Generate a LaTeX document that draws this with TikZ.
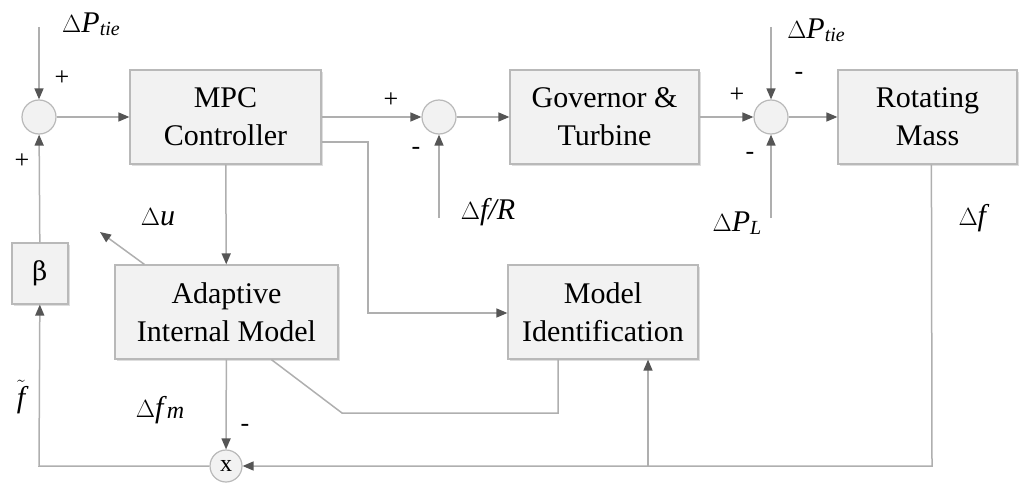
\documentclass[tikz,border=0pt]{standalone}
\usepackage{fontspec}
\newfontfamily\tms{Liberation Serif}
\newfontfamily\djs{DejaVu Serif}
\usetikzlibrary{arrows.meta,calc}
\definecolor{linec}{RGB}{175,175,175}
\definecolor{tipc}{RGB}{85,85,85}
\definecolor{boxc}{RGB}{185,185,185}
\definecolor{shdc}{RGB}{222,222,222}
\definecolor{boxf}{RGB}{242,242,242}
\newcommand{\dlt}{\ensuremath{\Delta}}
\begin{document}
\begin{tikzpicture}[x=1pt,y=-1pt,
  blk/.style={draw=boxc, line width=1.2pt, fill=boxf, align=center, inner sep=0pt,
    font=\tms\fontsize{30}{38}\selectfont},
  shd/.style={fill=shdc, draw=none},
  sumc/.style={circle, draw=boxc, line width=1.2pt, fill=boxf, minimum size=34pt, inner sep=0pt},
  conn/.style={draw=linec, line width=1.5pt},
  arr/.style={conn, -{Triangle[length=11pt,width=9pt,color=tipc]}},
  lbl/.style={font=\tms\fontsize{30}{34}\selectfont, inner sep=0pt},
  sgn/.style={font=\tms\fontsize{26}{28}\selectfont, inner sep=0pt}
]
\useasboundingbox (0,0) rectangle (1019,484);

% shadows
\fill[shd] (132,72) rectangle (323,166);
\fill[shd] (512,72) rectangle (701,166);
\fill[shd] (840,72) rectangle (1019,166);
\fill[shd] (117,267) rectangle (340,361);
\fill[shd] (510,267) rectangle (700,361);
\fill[shd] (14,245) rectangle (70,306);

% blocks
\node[blk, minimum width=191pt, minimum height=94pt] (MPC) at (225.5,117) {MPC\\Controller};
\node[blk, minimum width=189pt, minimum height=94pt] (GOV) at (604.5,117) {Governor \&\\Turbine};
\node[blk, minimum width=179pt, minimum height=94pt] (RM) at (927.5,117) {Rotating\\Mass};
\node[blk, minimum width=223pt, minimum height=94pt] (AIM) at (226.5,312) {Adaptive\\Internal Model};
\node[blk, minimum width=190pt, minimum height=94pt] (MI) at (603,312) {Model\\Identification};
\node[blk, minimum width=56pt, minimum height=61pt] (B) at (40,273.5) {{\djs\fontsize{26}{30}\selectfont β}};

% summing junctions
\node[sumc] (S1) at (39,117) {};
\node[sumc] (S2) at (439,117) {};
\node[sumc] (S3) at (771,117) {};
\node[sumc, minimum size=32pt, font=\tms\fontsize{24}{26}\selectfont] (X) at (226,466) {x};

% free ends
\coordinate (pt1) at (39,27);
\coordinate (pt2) at (771,27);
\coordinate (pl) at (771,218);
\coordinate (fr) at (439,218);
\coordinate (du) at (100,232);
\coordinate (c1) at (368,142);
\coordinate (c2) at (368,313);
\coordinate (d1) at (342,413);
\coordinate (d2) at (558,413);
\coordinate (e1) at (932,466);
\coordinate (e2) at (648,466);
\coordinate (e3) at (39,466);

% connectors
\draw[arr] (pt1) -- (S1);
\draw[arr] (B) -- (S1);
\draw[arr] (S1) -- (MPC);
\draw[arr] (MPC.east) -- (S2);
\draw[arr] (fr) -- (S2);
\draw[arr] (S2) -- (GOV);
\draw[arr] (GOV) -- (S3);
\draw[arr] (pt2) -- (S3);
\draw[arr] (pl) -- (S3);
\draw[arr] (S3) -- (RM);
\draw[arr] ($(MPC.east)+(0,25)$) -- (c1) -- (c2) -- (MI.west |- c2);
\draw[arr] (MPC) -- (AIM);
\draw[arr] ($(AIM.north west)+(30,0)$) -- (du);
\draw[arr] (AIM) -- (X);
\draw[conn] ($(AIM.south west)+(157,0)$) -- (d1) -- (d2) -- (MI.south -| d2);
\draw[arr] ($(RM.south west)+(94,0)$) -- (e1) -- (X);
\draw[arr] (e2) -- (MI.south -| e2);
\draw[arr] (X) -- (e3) -- (B);

% labels
\node[lbl] (l1) at (91,24) {\dlt\textit{P}\raisebox{-3pt}{\fontsize{20}{22}\selectfont\textit{tie}}};
\node[lbl] (l2) at (816,30) {\dlt\textit{P}\raisebox{-3pt}{\fontsize{20}{22}\selectfont\textit{tie}}};
\node[lbl] (l3) at (737,223) {\dlt\textit{P}\raisebox{-3pt}{\fontsize{20}{22}\selectfont\textit{L}}};
\node[lbl] (l4) at (488,212) {\dlt\textit{f/R}};
\node[lbl] (l5) at (974,218) {\dlt\textit{f}};
\node[lbl] (l6) at (158,217) {\dlt\textit{u}};
\node[lbl] (l7) at (160,410) {\dlt\textit{f}\raisebox{-1pt}{\fontsize{24}{24}\selectfont\textit{m}}};
\node[lbl] (l8) at (21,397) {$\tilde{\mbox{\tms\itshape f}}$};

% signs
\node[sgn] at (62,78) {+};
\node[sgn] at (22,161) {+};
\node[sgn] at (391,100) {+};
\node[sgn] at (416,151) {-};
\node[sgn] at (737,95) {+};
\node[sgn] at (799,76) {-};
\node[sgn] at (750,156) {-};
\node[sgn] at (245,428) {-};
\end{tikzpicture}
\end{document}
